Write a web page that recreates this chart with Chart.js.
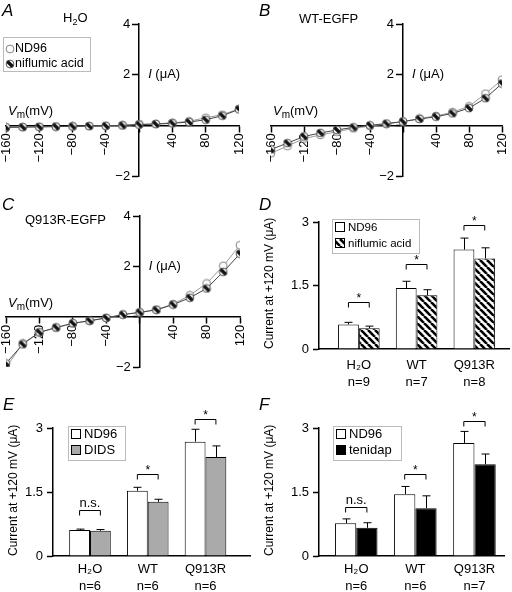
<!DOCTYPE html>
<html>
<head>
<meta charset="utf-8">
<script src="https://cdn.jsdelivr.net/npm/chart.js@4.4.1/dist/chart.umd.min.js"></script>
<style>
  body { margin: 0; background: #fff; }
  #fig { position: relative; width: 512px; height: 592px; overflow: hidden; }
  #fig canvas { position: absolute; }
</style>
</head>
<body>
<div id="fig">
  <canvas id="cA" width="256" height="197" style="left:0;top:0"></canvas>
  <canvas id="cB" width="256" height="197" style="left:256px;top:0"></canvas>
  <canvas id="cC" width="256" height="198" style="left:0;top:197px"></canvas>
  <canvas id="cD" width="256" height="198" style="left:256px;top:197px"></canvas>
  <canvas id="cE" width="256" height="197" style="left:0;top:395px"></canvas>
  <canvas id="cF" width="256" height="197" style="left:256px;top:395px"></canvas>
</div>
<script>
// I-V curves (mV / uA)
const volts = [-160, -140, -120, -100, -80, -60, -40, -20, 0, 20, 40, 60, 80, 100, 120];
const h2oNd96 = [-0.08, -0.07, -0.06, -0.05, -0.04, -0.03, -0.02, 0, 0.04, 0.06, 0.1, 0.16, 0.3, 0.42, 0.65];
const h2oNif = [-0.08, -0.07, -0.06, -0.05, -0.04, -0.03, -0.02, 0, 0.03, 0.05, 0.08, 0.13, 0.22, 0.38, 0.63];
const wtNd96 = [-1.1, -0.82, -0.52, -0.38, -0.25, -0.12, -0.03, 0.05, 0.15, 0.27, 0.37, 0.52, 0.75, 1.25, 1.8];
const wtNif = [-0.95, -0.7, -0.44, -0.3, -0.18, -0.08, 0, 0.07, 0.15, 0.25, 0.34, 0.47, 0.68, 1.07, 1.65];
const qNd96 = [-2.03, -1.06, -0.63, -0.44, -0.27, -0.17, -0.05, 0.09, 0.17, 0.28, 0.5, 0.85, 1.32, 2.02, 2.84];
const qNif = [-1.86, -1.1, -0.62, -0.43, -0.26, -0.16, -0.05, 0.08, 0.17, 0.27, 0.48, 0.75, 1.12, 1.78, 2.5];

// current at +120 mV, bar panels
const groups = ['H₂O', 'WT', 'Q913R'];
const dN = ['n=9', 'n=7', 'n=8'];
const dNd96 = [0.58, 1.44, 2.35];
const dNd96Err = [0.05, 0.16, 0.27];
const dNif = [0.49, 1.27, 2.14];
const dNifErr = [0.05, 0.13, 0.25];
const dBracket = [1.11, 2.0, 2.94];
const dSig = ['*', '*', '*'];

const eN = ['n=6', 'n=6', 'n=6'];
const eNd96 = [0.61, 1.53, 2.68];
const eNd96Err = [0.02, 0.08, 0.29];
const eDids = [0.59, 1.27, 2.32];
const eDidsErr = [0.03, 0.06, 0.26];
const eBracket = [1.08, 1.92, 3.2];
const eSig = ['n.s.', '*', '*'];

const fN = ['n=6', 'n=6', 'n=7'];
const fNd96 = [0.77, 1.45, 2.65];
const fNd96Err = [0.1, 0.18, 0.27];
const fTen = [0.66, 1.12, 2.15];
const fTenErr = [0.12, 0.29, 0.24];
const fBracket = [1.16, 1.93, 3.16];
const fSig = ['n.s.', '*', '*'];

const FONT = '"Liberation Sans", Arial, sans-serif';
Chart.defaults.font.family = FONT;
Chart.defaults.color = '#000';

const signed = v => (v < 0 ? '−' : '') + Math.abs(v);

function makeMarker(shaded) {
  const c = document.createElement('canvas');
  c.width = 10; c.height = 10;
  const g = c.getContext('2d');
  g.beginPath();
  g.arc(5, 5, 3.9, 0, Math.PI * 2);
  g.fillStyle = '#fff';
  g.fill();
  if (shaded) {
    g.save();
    g.clip();
    g.strokeStyle = '#111';
    g.lineWidth = 3.4;
    g.beginPath();
    g.moveTo(0, 0);
    g.lineTo(10, 10);
    g.stroke();
    g.restore();
  }
  g.beginPath();
  g.arc(5, 5, 3.9, 0, Math.PI * 2);
  g.strokeStyle = shaded ? '#444' : '#777';
  g.lineWidth = 0.9;
  g.stroke();
  return c;
}
const openMark = makeMarker(false);
const halfMark = makeMarker(true);

function makeHatch() {
  const t = document.createElement('canvas');
  t.width = 7; t.height = 7;
  const g = t.getContext('2d');
  g.fillStyle = '#fff';
  g.fillRect(0, 0, 7, 7);
  g.strokeStyle = '#000';
  g.lineWidth = 2.6;
  for (const o of [-7, 0, 7]) {
    g.beginPath();
    g.moveTo(o, 0);
    g.lineTo(o + 7, 7);
    g.stroke();
  }
  return g.createPattern(t, 'repeat');
}
const hatch = makeHatch();

// draw a run of text pieces: [text, size, dy, italic]
function drawParts(ctx, parts, x, y) {
  for (const [txt, size, dy, it] of parts) {
    ctx.font = (it ? 'italic ' : '') + size + 'px ' + FONT;
    ctx.fillText(txt, x, y + dy);
    x += ctx.measureText(txt).width;
  }
}

function ivChart(id, nd, nif, pad, deco) {
  return new Chart(document.getElementById(id), {
    type: 'line',
    data: {
      datasets: [
        { label: 'niflumic acid', data: volts.map((v, i) => ({ x: v, y: nif[i] })),
          borderColor: '#444', borderWidth: 1, pointStyle: halfMark, pointRadius: 5, tension: 0 },
        { label: 'ND96', data: volts.map((v, i) => ({ x: v, y: nd[i] })),
          borderColor: '#999', borderWidth: 1, pointStyle: openMark, pointRadius: 5, tension: 0 }
      ]
    },
    options: {
      responsive: false, animation: false, devicePixelRatio: 1,
      layout: { padding: pad },
      plugins: { legend: { display: false }, tooltip: { enabled: false } },
      scales: {
        x: {
          type: 'linear', min: -160, max: 120, position: { y: 0 },
          afterFit(s) { s.paddingLeft = 0; s.paddingRight = 0; },
          grid: { drawOnChartArea: false, tickLength: 6, tickWidth: 1.5, tickColor: '#000' },
          border: { color: '#000', width: 1.5 },
          ticks: { stepSize: 40, minRotation: 90, maxRotation: 90, autoSkip: false, padding: 2,
                   font: { size: 13 }, callback: v => v === 0 ? '' : signed(v) }
        },
        y: {
          min: -2, max: 4, position: { x: 0 },
          grid: { drawOnChartArea: false, tickLength: 6, tickWidth: 1.5, tickColor: '#000' },
          border: { color: '#000', width: 1.5 },
          ticks: { stepSize: 2, display: false }
        }
      }
    },
    plugins: [{
      id: 'ivDeco',
      afterDraw(chart) {
        const ctx = chart.ctx, xs = chart.scales.x, ys = chart.scales.y;
        const x0 = xs.getPixelForValue(0), y0 = ys.getPixelForValue(0);
        ctx.save();
        ctx.fillStyle = '#000';
        // y tick labels, placed left of the tick marks
        ctx.font = '13px ' + FONT;
        ctx.textAlign = 'right';
        ctx.textBaseline = 'middle';
        ys.ticks.forEach(t => {
          if (t.value !== 0) ctx.fillText(signed(t.value), x0 - 9, ys.getPixelForValue(t.value));
        });
        ctx.textAlign = 'left';
        drawParts(ctx, [['I', 13, 0, true], [' (μA)', 13, 0, false]], x0 + 9, ys.getPixelForValue(2));
        ctx.textBaseline = 'alphabetic';
        drawParts(ctx, [[deco.letter, 17, 0, true]], deco.lx, deco.ly);
        drawParts(ctx, deco.title, deco.tx, deco.ty);
        drawParts(ctx, [['V', 13, 0, true], ['m', 10, 3, false], ['(mV)', 13, 0, false]],
                  chart.chartArea.left + 2, y0 - 10);
        if (deco.legend) {
          const L = deco.legend;
          ctx.strokeStyle = '#bbb';
          ctx.lineWidth = 1;
          ctx.fillStyle = '#fff';
          ctx.fillRect(L.x, L.y, L.w, L.h);
          ctx.strokeRect(L.x + 0.5, L.y + 0.5, L.w, L.h);
          ctx.drawImage(openMark, L.x + 2, L.y + 7);
          ctx.drawImage(halfMark, L.x + 2, L.y + 22);
          ctx.fillStyle = '#000';
          ctx.textBaseline = 'middle';
          drawParts(ctx, [['ND96', 12.5, 0, false]], L.x + 12, L.y + 12);
          drawParts(ctx, [['niflumic acid', 12.5, 0, false]], L.x + 12, L.y + 27);
        }
        ctx.restore();
      }
    }]
  });
}

ivChart('cA', h2oNd96, h2oNif, { left: 6, right: 17, top: 24, bottom: 21 }, {
  letter: 'A', lx: 2, ly: 16,
  title: [['H', 13, 0, false], ['2', 9, 3, false], ['O', 13, 0, false]], tx: 63, ty: 22,
  legend: { x: 3, y: 37, w: 87, h: 34 }
});
ivChart('cB', wtNd96, wtNif, { left: 15, right: 10, top: 24, bottom: 21 }, {
  letter: 'B', lx: 3, ly: 16,
  title: [['WT-EGFP', 13, 0, false]], tx: 43, ty: 23
});
ivChart('cC', qNd96, qNif, { left: 6, right: 16, top: 19, bottom: 28 }, {
  letter: 'C', lx: 2, ly: 13,
  title: [['Q913R-EGFP', 13, 0, false]], tx: 25, ty: 27
});

function barChart(id, cfg) {
  return new Chart(document.getElementById(id), {
    type: 'bar',
    data: {
      datasets: [
        { label: 'ND96', data: cfg.nd.map((v, i) => ({ x: i, y: v })), errors: cfg.ndErr,
          backgroundColor: '#fff', borderColor: '#000', borderWidth: 1 },
        { label: cfg.drugLabel, data: cfg.drug.map((v, i) => ({ x: i, y: v })), errors: cfg.drugErr,
          backgroundColor: cfg.drugFill, borderColor: '#000', borderWidth: 1 }
      ]
    },
    options: {
      responsive: false, animation: false, devicePixelRatio: 1,
      layout: { padding: { left: 0, top: cfg.top, right: cfg.right, bottom: 0 } },
      categoryPercentage: 0.72, barPercentage: 1,
      plugins: { legend: { display: false }, tooltip: { enabled: false } },
      scales: {
        x: {
          type: 'linear', min: cfg.xmin, max: cfg.xmax, offset: false,
          afterBuildTicks(s) { s.ticks = groups.map((g, i) => ({ value: i })); },
          afterFit(s) { s.height = cfg.xh; s.paddingLeft = 0; s.paddingRight = 0; },
          grid: { drawOnChartArea: false, drawTicks: false },
          border: { color: '#000', width: 1.5 },
          ticks: { padding: cfg.xpad, font: { size: 13, lineHeight: 1.3 }, autoSkip: false, maxRotation: 0,
                   callback: v => [groups[v], cfg.n[v]] }
        },
        y: {
          min: 0, max: 3,
          afterFit(s) { s.width = cfg.yw; },
          grid: { drawOnChartArea: false, tickLength: 6, tickWidth: 1.5, tickColor: '#000' },
          border: { color: '#000', width: 1.5 },
          ticks: { stepSize: 1.5, padding: 4, font: { size: 13 } },
          title: { display: true, text: 'Current at +120 mV (μA)', align: 'start',
                   font: { size: 12 }, padding: { top: 6, bottom: 0 } }
        }
      }
    },
    plugins: [{
      id: 'barDeco',
      afterDatasetsDraw(chart) {
        const ctx = chart.ctx, ys = chart.scales.y;
        ctx.save();
        ctx.strokeStyle = '#000';
        ctx.fillStyle = '#000';
        ctx.lineWidth = 1;
        // error bars (upper only)
        chart.data.datasets.forEach((ds, d) => {
          chart.getDatasetMeta(d).data.forEach((el, i) => {
            const top = ys.getPixelForValue(ds.data[i].y + ds.errors[i]);
            const x = Math.round(el.x) + 0.5;
            ctx.beginPath();
            ctx.moveTo(x, el.y);
            ctx.lineTo(x, top);
            ctx.moveTo(x - 4, top);
            ctx.lineTo(x + 4, top);
            ctx.stroke();
          });
        });
        // significance brackets
        const m0 = chart.getDatasetMeta(0).data, m1 = chart.getDatasetMeta(1).data;
        ctx.textAlign = 'center';
        ctx.textBaseline = 'alphabetic';
        cfg.bracket.forEach((b, i) => {
          const y = Math.round(ys.getPixelForValue(b)) + 0.5;
          const xa = m0[i].x, xb = m1[i].x;
          ctx.beginPath();
          ctx.moveTo(xa, y + 5);
          ctx.lineTo(xa, y);
          ctx.lineTo(xb, y);
          ctx.lineTo(xb, y + 5);
          ctx.stroke();
          if (cfg.sig[i] === '*') {
            ctx.font = '12px ' + FONT;
            ctx.fillText('*', (xa + xb) / 2, y - 1);
          } else {
            ctx.font = '13px ' + FONT;
            ctx.fillText(cfg.sig[i], (xa + xb) / 2, y - 4);
          }
        });
        ctx.restore();
      },
      afterDraw(chart) {
        const ctx = chart.ctx, L = cfg.legend;
        ctx.save();
        ctx.fillStyle = '#fff';
        ctx.fillRect(L.x, L.y, L.w, L.h);
        ctx.strokeStyle = '#bbb';
        ctx.lineWidth = 1;
        ctx.strokeRect(L.x + 0.5, L.y + 0.5, L.w, L.h);
        ctx.strokeStyle = '#000';
        ctx.fillStyle = '#fff';
        ctx.fillRect(L.x + 3, L.y + 3, 10, 10);
        ctx.strokeRect(L.x + 3.5, L.y + 3.5, 9, 9);
        ctx.fillStyle = cfg.drugFill;
        ctx.fillRect(L.x + 3, L.y + 19, 10, 10);
        ctx.strokeRect(L.x + 3.5, L.y + 19.5, 9, 9);
        ctx.fillStyle = '#000';
        ctx.textBaseline = 'middle';
        drawParts(ctx, [['ND96', L.fs, 0, false]], L.x + 16, L.y + 8.5);
        drawParts(ctx, [[cfg.drugLabel, L.fs, 0, false]], L.x + 16, L.y + 24.5);
        ctx.textBaseline = 'alphabetic';
        drawParts(ctx, [[cfg.letter, 17, 0, true]], 3, cfg.ly);
        ctx.restore();
      }
    }]
  });
}

barChart('cD', {
  nd: dNd96, ndErr: dNd96Err, drug: dNif, drugErr: dNifErr, drugFill: hatch, drugLabel: 'niflumic acid',
  n: dN, bracket: dBracket, sig: dSig, letter: 'D', ly: 13,
  xmin: -0.69, xmax: 2.6, top: 25, right: 3, yw: 63, xh: 46, xpad: 8,
  legend: { x: 76, y: 22, w: 87, h: 34, fs: 11.5 }
});
barChart('cE', {
  nd: eNd96, ndErr: eNd96Err, drug: eDids, drugErr: eDidsErr, drugFill: '#aaa', drugLabel: 'DIDS',
  n: eN, bracket: eBracket, sig: eSig, letter: 'E', ly: 15,
  xmin: -0.64, xmax: 2.77, top: 33, right: 6, yw: 53, xh: 36, xpad: 5,
  legend: { x: 68, y: 31, w: 57, h: 34, fs: 13 }
});
barChart('cF', {
  nd: fNd96, ndErr: fNd96Err, drug: fTen, drugErr: fTenErr, drugFill: '#000', drugLabel: 'tenidap',
  n: fN, bracket: fBracket, sig: fSig, letter: 'F', ly: 15,
  xmin: -0.63, xmax: 2.5, top: 33, right: 8, yw: 63, xh: 36, xpad: 5,
  legend: { x: 77, y: 31, w: 68, h: 34, fs: 13 }
});
</script>
</body>
</html>
